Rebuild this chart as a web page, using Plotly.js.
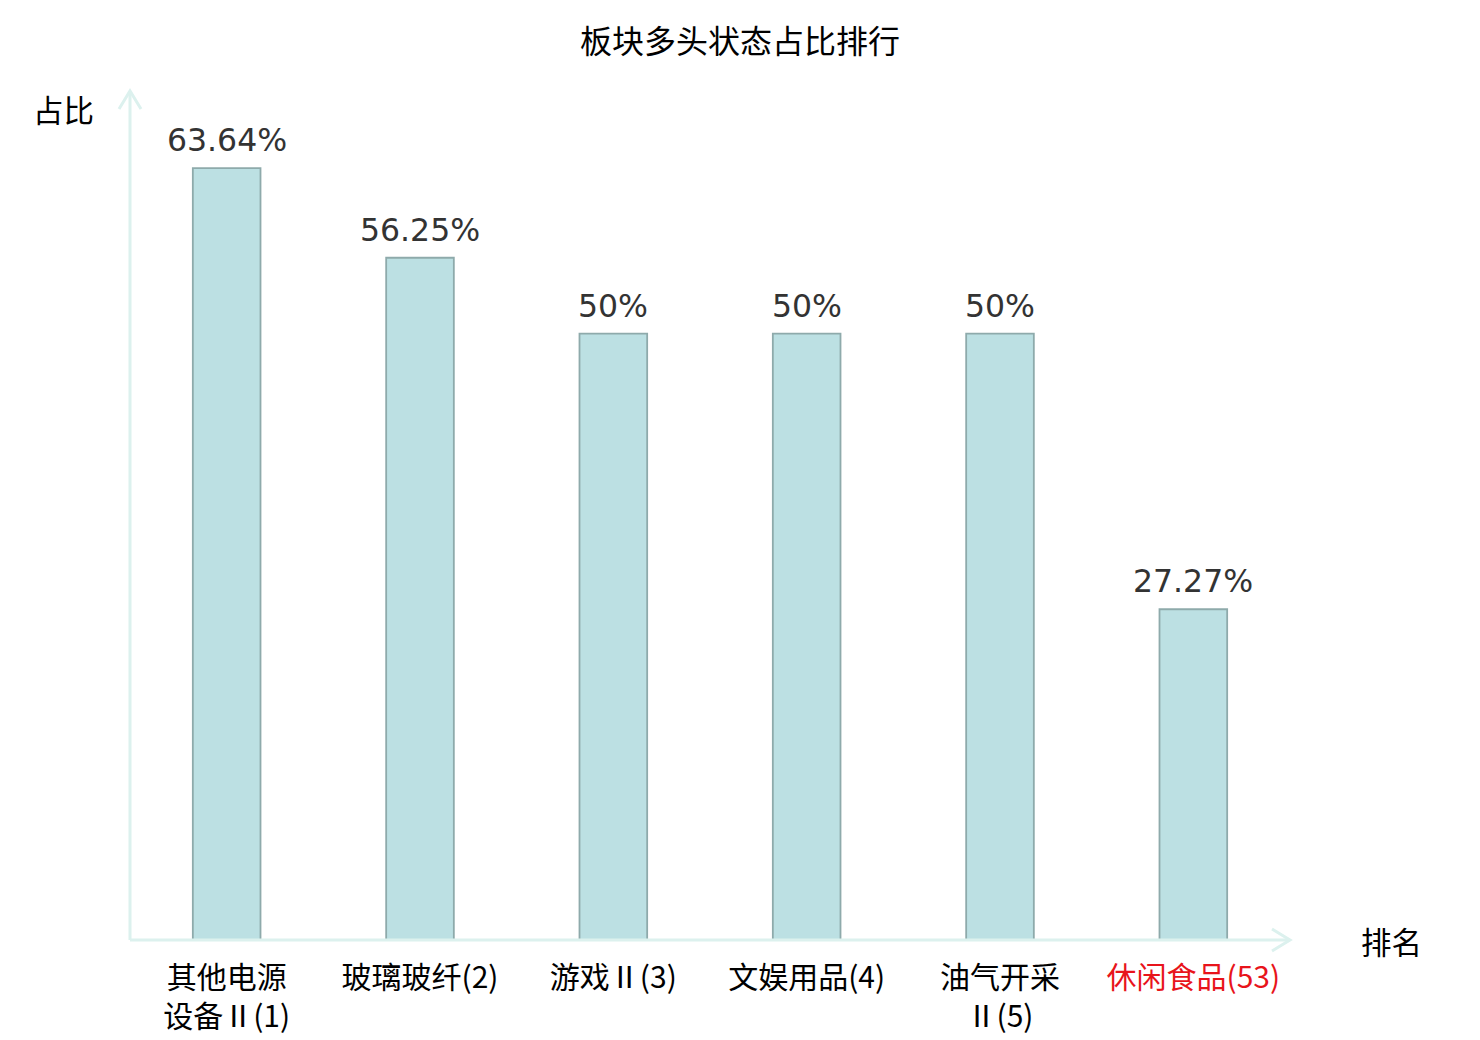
<!DOCTYPE html>
<html>
<head>
<meta charset="utf-8">
<script src="https://cdn.plot.ly/plotly-3.0.1.min.js"></script>
<style>html,body{margin:0;padding:0;background:#fff;}#chart{width:1480px;height:1040px;}</style>
</head>
<body>
<div id="chart"></div>
<script>
const categories = ["其他电源设备Ⅱ(1)", "玻璃玻纤(2)", "游戏Ⅱ(3)", "文娱用品(4)", "油气开采Ⅱ(5)", "休闲食品(53)"];
const tickLabels = ["其他电源<br>设备Ⅱ(1)", "玻璃玻纤(2)", "游戏Ⅱ(3)", "文娱用品(4)", "油气开采<br>Ⅱ(5)", "<span style=\"color:#e8141b\">休闲食品(53)</span>"];
const values = [63.64, 56.25, 50, 50, 50, 27.27];
const valueLabels = ["63.64%", "56.25%", "50%", "50%", "50%", "27.27%"];

const cjk = '"Noto Sans CJK SC", "Noto Sans", sans-serif';
const axisColor = '#dcf1ee';
const W = 1160, H = 849;

const trace = {
  type: 'bar',
  x: categories,
  y: values,
  width: 0.35,
  marker: {color: '#bce0e3', line: {color: '#8eaaab', width: 1.8}},
  hoverinfo: 'skip'
};

const annotations = categories.map((c, i) => ({
  x: c, y: values[i], xref: 'x', yref: 'y',
  text: valueLabels[i], showarrow: false,
  yanchor: 'bottom', yshift: 8,
  font: {family: '"DejaVu Sans", sans-serif', size: 31.5, color: '#333333'}
}));
annotations.push({
  xref: 'paper', yref: 'paper', x: (63 - 130) / W, y: (940 - 109) / H,
  text: '占比', showarrow: false, xanchor: 'center', yanchor: 'middle',
  font: {family: cjk, size: 30.5, color: '#000'}
});
annotations.push({
  xref: 'paper', yref: 'paper', x: (1391 - 130) / W, y: (940 - 941) / H,
  text: '排名', showarrow: false, xanchor: 'center', yanchor: 'middle',
  font: {family: cjk, size: 30.5, color: '#000'}
});

const ax = 18 / W, ay = 11 / H, bx = 11 / W, by = 18 / H;
const lineStyle = {color: axisColor, width: 3};
const shapes = [
  {type: 'line', xref: 'paper', yref: 'paper', x0: 0, y0: 0, x1: 1, y1: 0, line: lineStyle},
  {type: 'line', xref: 'paper', yref: 'paper', x0: 0, y0: 0, x1: 0, y1: 1, line: lineStyle},
  {type: 'path', xref: 'paper', yref: 'paper', path: `M ${1 - ax} ${ay} L 1 0 L ${1 - ax} ${-ay}`, line: lineStyle},
  {type: 'path', xref: 'paper', yref: 'paper', path: `M ${-bx} ${1 - by} L 0 1 L ${bx} ${1 - by}`, line: lineStyle}
];

const layout = {
  width: 1480, height: 1040,
  margin: {l: 130, r: 190, t: 91, b: 100},
  paper_bgcolor: '#ffffff', plot_bgcolor: '#ffffff',
  title: {text: '板块多头状态占比排行', x: 0.5, xanchor: 'center', y: 1 - 42 / 1040, yanchor: 'middle',
          font: {family: cjk, size: 32, color: '#000'}},
  showlegend: false,
  xaxis: {
    type: 'category', tickmode: 'array', tickvals: categories, ticktext: tickLabels,
    range: [-0.5, 5.5], showgrid: false, zeroline: false, showline: false, ticks: '',
    tickfont: {family: cjk, size: 30, color: '#000'}, tickangle: 0, ticklabelstandoff: 17
  },
  yaxis: {range: [0, 70], showgrid: false, zeroline: false, showline: false, showticklabels: false, ticks: ''},
  annotations: annotations,
  shapes: shapes
};

Plotly.newPlot('chart', [trace], layout, {staticPlot: true});
</script>
</body>
</html>
